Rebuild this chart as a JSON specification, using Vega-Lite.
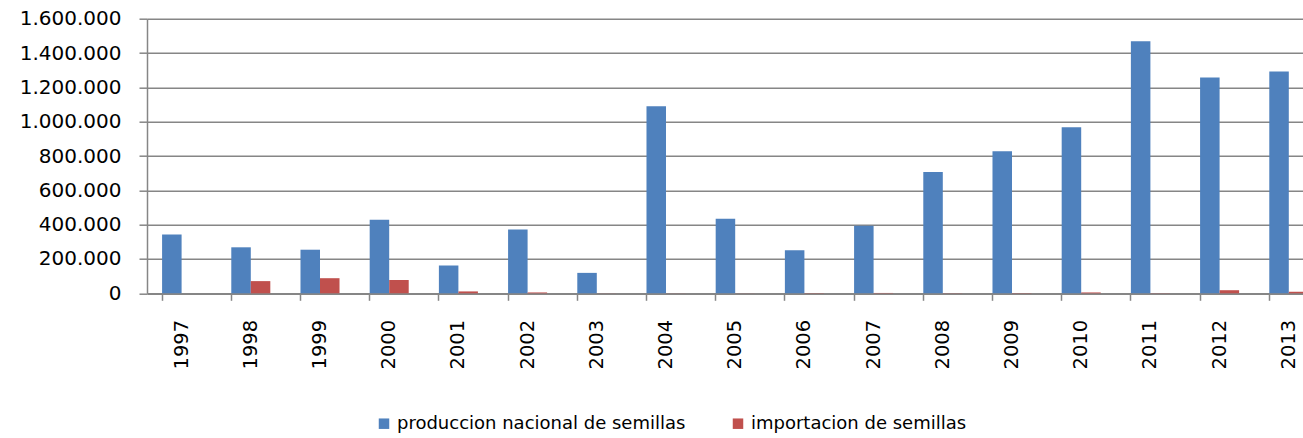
{
  "$schema": "https://vega.github.io/schema/vega-lite/v6.json",
  "width": 1156,
  "height": 274.6,
  "autosize": {"type": "none"},
  "padding": {"left": 147, "top": 18.7, "right": 0, "bottom": 144.7},
  "background": "white",
  "data": {
    "values": [
      {"year": "1997", "serie": "produccion nacional de semillas", "valor": 343000},
      {"year": "1997", "serie": "importacion de semillas", "valor": 0},
      {"year": "1998", "serie": "produccion nacional de semillas", "valor": 268000},
      {"year": "1998", "serie": "importacion de semillas", "valor": 71000},
      {"year": "1999", "serie": "produccion nacional de semillas", "valor": 254000},
      {"year": "1999", "serie": "importacion de semillas", "valor": 88000},
      {"year": "2000", "serie": "produccion nacional de semillas", "valor": 428000},
      {"year": "2000", "serie": "importacion de semillas", "valor": 77000},
      {"year": "2001", "serie": "produccion nacional de semillas", "valor": 162000},
      {"year": "2001", "serie": "importacion de semillas", "valor": 11000},
      {"year": "2002", "serie": "produccion nacional de semillas", "valor": 372000},
      {"year": "2002", "serie": "importacion de semillas", "valor": 5000},
      {"year": "2003", "serie": "produccion nacional de semillas", "valor": 119000},
      {"year": "2003", "serie": "importacion de semillas", "valor": 500},
      {"year": "2004", "serie": "produccion nacional de semillas", "valor": 1090000},
      {"year": "2004", "serie": "importacion de semillas", "valor": 500},
      {"year": "2005", "serie": "produccion nacional de semillas", "valor": 434000},
      {"year": "2005", "serie": "importacion de semillas", "valor": 500},
      {"year": "2006", "serie": "produccion nacional de semillas", "valor": 251000},
      {"year": "2006", "serie": "importacion de semillas", "valor": 1500},
      {"year": "2007", "serie": "produccion nacional de semillas", "valor": 393000},
      {"year": "2007", "serie": "importacion de semillas", "valor": 2000},
      {"year": "2008", "serie": "produccion nacional de semillas", "valor": 707000},
      {"year": "2008", "serie": "importacion de semillas", "valor": 1000},
      {"year": "2009", "serie": "produccion nacional de semillas", "valor": 827000},
      {"year": "2009", "serie": "importacion de semillas", "valor": 1500},
      {"year": "2010", "serie": "produccion nacional de semillas", "valor": 967000},
      {"year": "2010", "serie": "importacion de semillas", "valor": 5000},
      {"year": "2011", "serie": "produccion nacional de semillas", "valor": 1468000},
      {"year": "2011", "serie": "importacion de semillas", "valor": 1000},
      {"year": "2012", "serie": "produccion nacional de semillas", "valor": 1258000},
      {"year": "2012", "serie": "importacion de semillas", "valor": 18000},
      {"year": "2013", "serie": "produccion nacional de semillas", "valor": 1293000},
      {"year": "2013", "serie": "importacion de semillas", "valor": 9000}
    ]
  },
  "mark": {"type": "bar"},
  "encoding": {
    "x": {
      "field": "year",
      "type": "nominal",
      "title": null,
      "scale": {"range": [0, 1176.4], "paddingInner": 0.436, "paddingOuter": 0.218},
      "axis": {
        "bandPosition": 0,
        "labelAngle": -90,
        "labelAlign": "right",
        "labelBaseline": "middle",
        "labelFont": "DejaVu Sans",
        "labelFontSize": 19.5,
        "labelColor": "#000000",
        "labelPadding": 19,
        "tickSize": 7,
        "tickColor": "#868686",
        "tickWidth": 1.5,
        "domainColor": "#868686",
        "domainWidth": 1.5,
        "grid": false
      }
    },
    "xOffset": {
      "field": "serie",
      "type": "nominal",
      "sort": ["produccion nacional de semillas", "importacion de semillas"],
      "scale": {"paddingInner": 0, "paddingOuter": 0}
    },
    "y": {
      "field": "valor",
      "type": "quantitative",
      "title": null,
      "scale": {"domain": [0, 1600000], "nice": false},
      "axis": {
        "values": [0, 200000, 400000, 600000, 800000, 1000000, 1200000, 1400000, 1600000],
        "labelExpr": "replace(format(datum.value, ','), regexp(',', 'g'), '.')",
        "labelFont": "DejaVu Sans",
        "labelFontSize": 20,
        "labelColor": "#000000",
        "labelPadding": 18,
        "tickSize": 8,
        "tickColor": "#868686",
        "tickWidth": 1.5,
        "domainColor": "#868686",
        "domainWidth": 1.5,
        "gridColor": "#868686",
        "gridWidth": 1.5
      }
    },
    "color": {
      "field": "serie",
      "type": "nominal",
      "title": null,
      "sort": ["produccion nacional de semillas", "importacion de semillas"],
      "scale": {
        "domain": ["produccion nacional de semillas", "importacion de semillas"],
        "range": ["#4F81BD", "#C0504D"]
      },
      "legend": {
        "orient": "none",
        "legendX": 228,
        "legendY": 396,
        "direction": "horizontal",
        "columns": 2,
        "symbolType": "square",
        "symbolSize": 110,
        "symbolStrokeWidth": 0,
        "labelFont": "DejaVu Sans",
        "labelFontSize": 18,
        "labelColor": "#000000",
        "labelOffset": 4,
        "columnPadding": 43,
        "labelLimit": 500
      }
    }
  },
  "config": {
    "view": {"stroke": null},
    "axis": {"domainCap": "butt"}
  }
}
